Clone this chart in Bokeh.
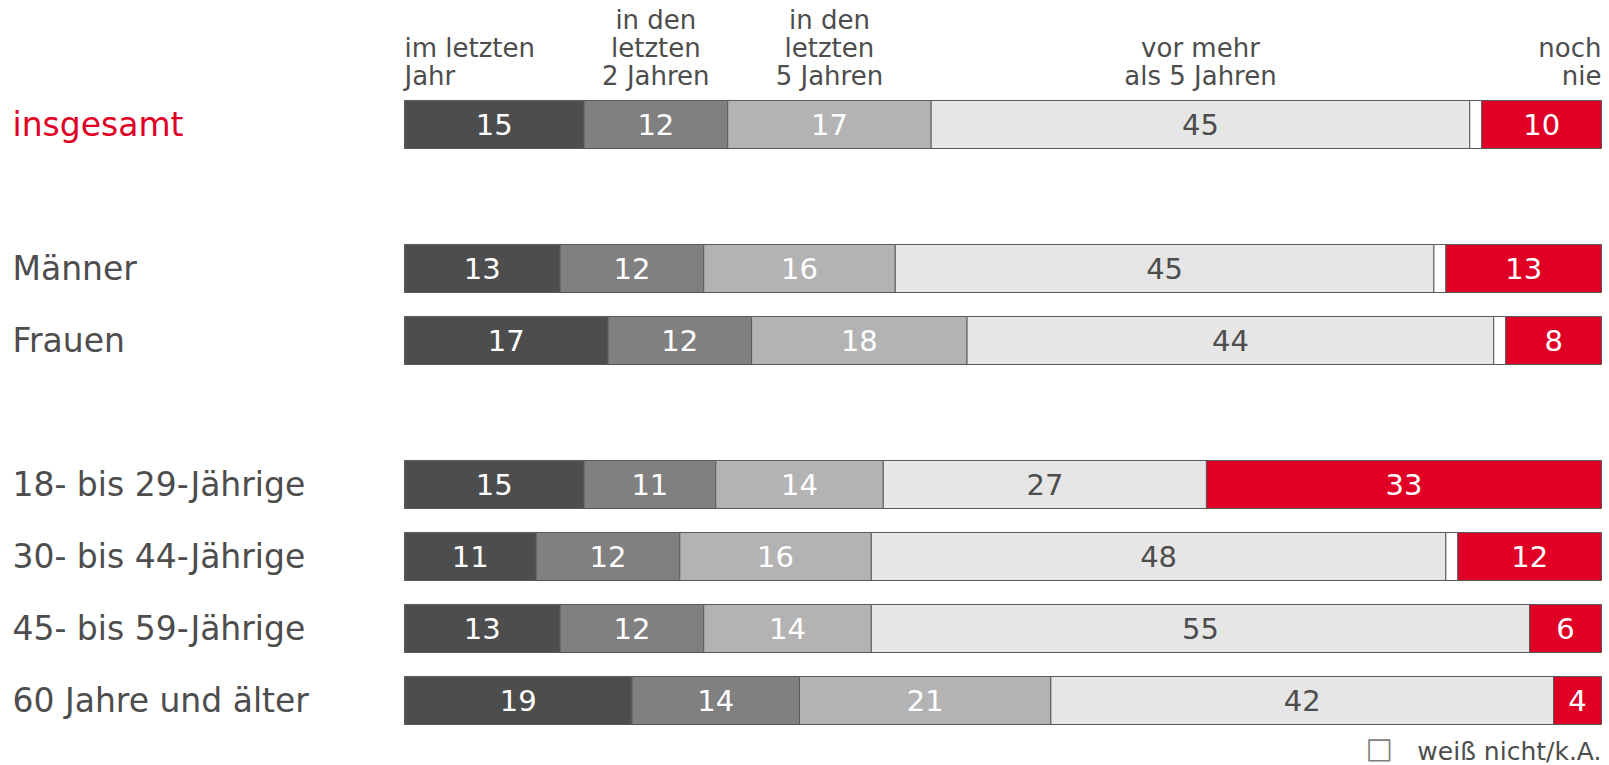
import numpy as np
from bokeh.plotting import figure
from bokeh.models import Range1d, ColumnDataSource
from bokeh.core.properties import value
from bokeh.embed import file_html
from bokeh.resources import INLINE

# ---- data ----
groups = ["insgesamt", "Männer", "Frauen", "18- bis 29-Jährige",
          "30- bis 44-Jährige", "45- bis 59-Jährige", "60 Jahre und älter"]
im_letzten_jahr = [15, 13, 17, 15, 11, 13, 19]
letzte_2_jahre = [12, 12, 12, 11, 12, 12, 14]
letzte_5_jahre = [17, 16, 18, 14, 16, 14, 21]
mehr_als_5 = [45, 45, 44, 27, 48, 55, 42]
weiss_nicht = [1, 1, 1, 0, 1, 0, 0]
noch_nie = [10, 13, 8, 33, 12, 6, 4]
header_labels = ["im letzten\nJahr", "in den\nletzten\n2 Jahren", "in den\nletzten\n5 Jahren",
                 "vor mehr\nals 5 Jahren", "", "noch\nnie"]
legend_box = "□"
legend_label = "weiß nicht/k.A."

series = [im_letzten_jahr, letzte_2_jahre, letzte_5_jahre, mehr_als_5, weiss_nicht, noch_nie]
fills = ["#4d4d4d", "#808080", "#b3b3b3", "#e6e6e6", "#ffffff", "#e10025"]
txt_cols = ["#ffffff", "#ffffff", "#ffffff", "#4d4d4d", None, "#ffffff"]
show_vals = [True, True, True, True, False, True]

# layout (row slots)
slots = [0, 2, 3, 5, 6, 7, 8]
FONT = value("DejaVu Sans")
GRAY = "#4d4d4d"
RED = "#e10025"

W, H = 1609, 765
p = figure(width=W, height=H, output_backend="svg", toolbar_location=None,
           x_range=Range1d(-33.75, 100.67), y_range=Range1d(8.903, -1.722),
           min_border=0, min_border_left=0, min_border_right=0,
           min_border_top=0, min_border_bottom=0)
p.xaxis.visible = False
p.yaxis.visible = False
p.grid.visible = False
p.outline_line_color = None
p.background_fill_color = "white"
p.border_fill_color = "white"

data = np.array(series, dtype=float)
rights = np.cumsum(data, axis=0)
lefts = rights - data
bar_h = 0.667

for k in range(len(series)):
    src = ColumnDataSource(dict(y=slots, left=lefts[k], right=rights[k]))
    p.hbar(y="y", left="left", right="right", height=bar_h, source=src,
           fill_color=fills[k], line_color="#5a5a5a", line_width=1)
    if show_vals[k]:
        mids = (lefts[k] + rights[k]) / 2
        labs = [str(int(v)) for v in series[k]]
        tsrc = ColumnDataSource(dict(x=mids, y=slots, t=labs))
        p.text(x="x", y="y", text="t", source=tsrc, text_font=FONT,
               text_font_size="29px", text_color=txt_cols[k],
               text_align="center", text_baseline="middle")

# row labels
p.text(x=[-32.75] * len(groups), y=slots, text=groups, text_font=FONT,
       text_font_size="33px",
       text_color=[RED] + [GRAY] * (len(groups) - 1),
       text_align="left", text_baseline="middle")

# headers, positioned over the first row's segments
hx, hy, ht, ha = [], [], [], []
first_l = lefts[:, 0]
first_r = rights[:, 0]
line_step = 0.39
for k, lab in enumerate(header_labels):
    if not lab:
        continue
    lines = lab.split("\n")
    n = len(lines)
    if k == 0:
        x, al = first_l[k], "left"
    elif k == len(header_labels) - 1:
        x, al = first_r[k], "right"
    else:
        x, al = (first_l[k] + first_r[k]) / 2, "center"
    for i, ln in enumerate(lines):
        hx.append(x)
        hy.append(-0.667 - (n - 1 - i) * line_step)
        ht.append(ln)
        ha.append(al)
p.text(x="x", y="y", text="t", text_align="a",
       source=ColumnDataSource(dict(x=hx, y=hy, t=ht, a=ha)),
       text_font=FONT, text_font_size="26px", text_color=GRAY,
       text_baseline="middle")

# legend note
p.text(x=[100.0], y=[8.708], text=[legend_label], text_font=FONT,
       text_font_size="25px", text_color=GRAY, text_align="right",
       text_baseline="middle")
p.text(x=[82.6], y=[8.66], text=[legend_box], text_font=FONT,
       text_font_size="29px", text_color="#808080", text_align="right",
       text_baseline="middle")

open("out.html", "w").write(file_html(p, INLINE))
